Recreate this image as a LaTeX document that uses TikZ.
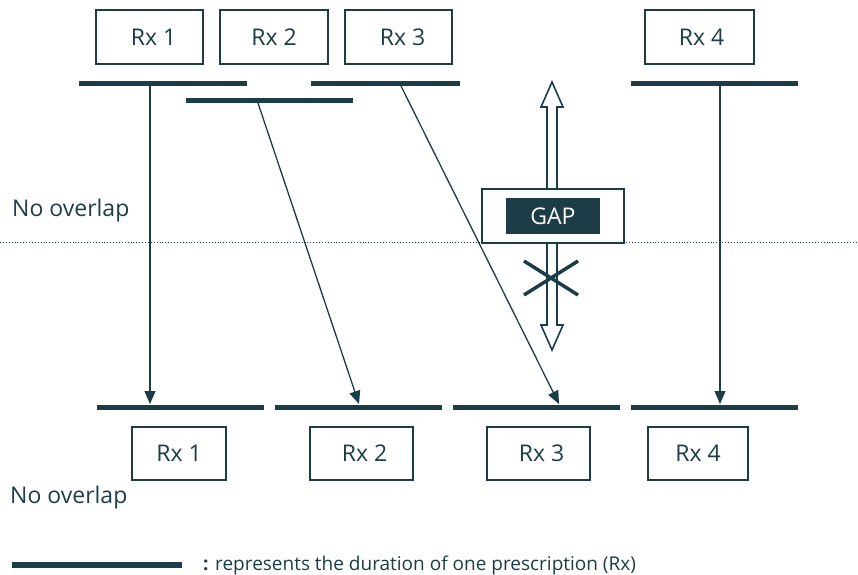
\documentclass[tikz,border=0pt]{standalone}
\usepackage{fontspec}
\setmainfont{Open Sans}
\usetikzlibrary{arrows.meta}
\definecolor{ink}{HTML}{1C3D47}
\begin{document}
\begin{tikzpicture}[x=1pt,y=-1pt,
  rxbox/.style={draw=ink,line width=1.8pt,fill=white,text=ink,inner sep=0pt,
    font=\fontsize{23}{26}\selectfont},
  bar/.style={draw=ink,line width=5pt},
  link/.style={draw=ink,line width=1.3pt,-{Triangle[length=13pt,width=11pt]}},
  label/.style={text=ink,anchor=west,inner sep=0pt,font=\fontsize{23}{26}\selectfont}]
\useasboundingbox (0,0) rectangle (858,574);

% prescriptions as first dispensed
\node[rxbox,minimum width=107pt,minimum height=54pt] (a1) at (149.5,37) {\hspace{8pt}Rx 1};
\node[rxbox,minimum width=108pt,minimum height=54pt] (a2) at (274,37) {Rx 2};
\node[rxbox,minimum width=107pt,minimum height=54pt] (a3) at (398.5,37) {\hspace{8pt}Rx 3};
\node[rxbox,minimum width=109pt,minimum height=54pt] (a4) at (699.5,37) {\hspace{4pt}Rx 4};

\draw[bar] (79,83) -- (247,83);
\draw[bar] (186,100) -- (353,100);
\draw[bar] (311,83) -- (460,83);
\draw[bar] (631,83) -- (798,83);

% prescriptions laid end to end
\draw[bar] (97,407) -- (264,407);
\draw[bar] (275,407) -- (442,407);
\draw[bar] (453,407) -- (620,407);
\draw[bar] (631,407) -- (798,407);

\node[rxbox,minimum width=94pt,minimum height=53pt] (b1) at (179,453.5) {Rx 1};
\node[rxbox,minimum width=103pt,minimum height=53pt] (b2) at (361.5,453.5) {\hspace{6pt}Rx 2};
\node[rxbox,minimum width=103pt,minimum height=53pt] (b3) at (538.5,453.5) {\hspace{6pt}Rx 3};
\node[rxbox,minimum width=100pt,minimum height=53pt] (b4) at (698,453.5) {Rx 4};

% shift connectors
\coordinate (s1) at (150,86);  \coordinate (e1) at (150,404);
\coordinate (s2) at (258,103); \coordinate (e2) at (359,404);
\coordinate (s3) at (401,86);  \coordinate (e3) at (559,404);
\coordinate (s4) at (720,86);  \coordinate (e4) at (720,404);
\draw[link] (s1) -- (e1);
\draw[link] (s2) -- (e2);
\draw[link] (s3) -- (e3);
\draw[link] (s4) -- (e4);

% divider
\draw[ink,line width=0.9pt,dotted] (0,242) -- (858,242);
\node[label] (n1) at (12,211) {No overlap};
\node[label] (n2) at (10,498) {No overlap};

% gap double arrow
\draw[ink,line width=1.6pt,fill=white,line join=miter]
  (552,82) -- (563,107) -- (557,107) -- (557,325) -- (563,325) -- (552,350)
  -- (541,325) -- (547,325) -- (547,107) -- (541,107) -- cycle;
\node[draw=ink,line width=1.6pt,fill=white,minimum width=142pt,minimum height=54pt,inner sep=0pt]
  (gapbox) at (553,216) {};
\node[fill=ink,text=white,minimum width=94pt,minimum height=36pt,inner sep=0pt,
  font=\fontsize{23}{26}\selectfont] (gap) at (553,216) {GAP};
\draw[ink,line width=3.5pt] (524,261) -- (578,295);
\draw[ink,line width=3.5pt] (524,295) -- (578,261);

% legend
\draw[ink,line width=6pt] (12,565) -- (182,565);
\node[text=ink,anchor=west,inner sep=0pt,font=\fontsize{19}{22}\selectfont] (legend) at (203,565)
  {\textbf{:} represents the duration of one prescription (Rx)};
\end{tikzpicture}
\end{document}
